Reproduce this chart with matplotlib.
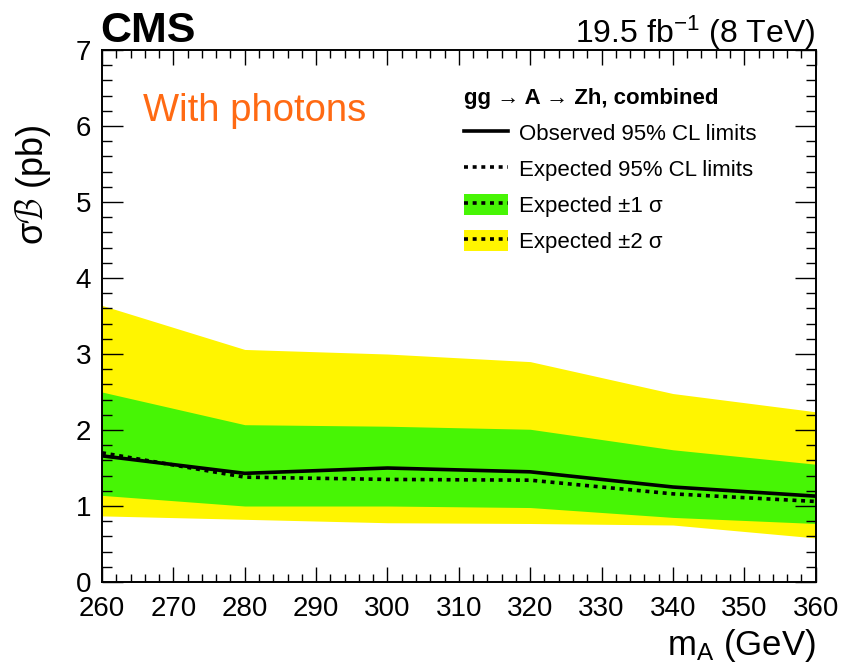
import matplotlib
matplotlib.use("Agg")
import matplotlib.pyplot as plt
from matplotlib.lines import Line2D
from matplotlib.patches import Patch
from matplotlib.ticker import MultipleLocator

plt.rcParams["font.family"] = ["Liberation Sans", "DejaVu Sans"]
plt.rcParams["mathtext.fontset"] = "custom"
plt.rcParams["mathtext.rm"] = "Liberation Sans"
plt.rcParams["mathtext.it"] = "Liberation Sans:italic"

mass = [260, 280, 300, 320, 340, 360]
observed = [1.66, 1.43, 1.50, 1.45, 1.25, 1.13]
expected = [1.70, 1.38, 1.35, 1.34, 1.16, 1.06]
minus1 = [1.14, 1.00, 1.00, 0.98, 0.85, 0.77]
plus1 = [2.50, 2.07, 2.05, 2.01, 1.74, 1.55]
minus2 = [0.87, 0.825, 0.78, 0.77, 0.75, 0.58]
plus2 = [3.64, 3.06, 3.00, 2.90, 2.48, 2.24]

green = "#47F505"
yellow = "#FFF500"
dots = (0, (1.1, 1.3))

fig = plt.figure(figsize=(8.41, 6.66), dpi=100)
ax = fig.add_axes([0.1213, 0.1261, 0.8486, 0.7988])

ax.fill_between(mass, minus2, plus2, color=yellow, lw=0)
ax.fill_between(mass, minus1, plus1, color=green, lw=0)
ax.plot(mass, expected, color="black", lw=2.6, ls=dots)
ax.plot(mass, observed, color="black", lw=2.6)

ax.set_xlim(260, 360)
ax.set_ylim(0, 7)
ax.xaxis.set_major_locator(MultipleLocator(10))
ax.xaxis.set_minor_locator(MultipleLocator(2))
ax.yaxis.set_major_locator(MultipleLocator(1))
ax.yaxis.set_minor_locator(MultipleLocator(0.2))
ax.tick_params(which="both", direction="in", top=True, right=True, width=1.0, labelsize=20)
ax.tick_params(axis="y", which="major", length=15, pad=8)
ax.tick_params(axis="y", which="minor", length=7.5)
ax.tick_params(axis="x", which="major", length=11, pad=10)
ax.tick_params(axis="x", which="minor", length=6)
for s in ax.spines.values():
    s.set_linewidth(1.4)

ax.set_xlabel(r"m$_{\mathrm{A}}$ (GeV)", fontsize=25, loc="right", labelpad=4)
ax.set_ylabel("σ$\\mathcal{B}$ (pb)", fontsize=26)
ax.yaxis.set_label_coords(-0.068, 0.746)

fig.text(0.119, 0.937, "CMS", fontsize=31, fontweight="bold", ha="left", va="baseline")
fig.text(0.969, 0.935, r"19.5 fb$^{-1}$ (8 TeV)", fontsize=23, ha="right", va="baseline")
ax.text(0.058, 0.885, "With photons", transform=ax.transAxes, color="#FF6A13", fontsize=27.5, va="center")

handles = [
    Line2D([], [], color="black", lw=2.6),
    Line2D([], [], color="black", lw=2.6, ls=dots),
    (Patch(color=green, lw=0), Line2D([], [], color="black", lw=2.6, ls=dots)),
    (Patch(color=yellow, lw=0), Line2D([], [], color="black", lw=2.6, ls=dots)),
]
labels = ["Observed 95% CL limits", "Expected 95% CL limits",
          "Expected ±1 σ", "Expected ±2 σ"]
leg = ax.legend(handles, labels, loc="upper left", bbox_to_anchor=(0.492, 0.949), frameon=False,
                fontsize=16, title="gg → A → Zh, combined",
                title_fontproperties={"size": 16, "weight": "bold"},
                handlelength=1.95, handleheight=1.1, handletextpad=0.5, labelspacing=0.57,
                borderpad=0)
leg._legend_box.align = "left"

fig.savefig("out.png", dpi=100)
